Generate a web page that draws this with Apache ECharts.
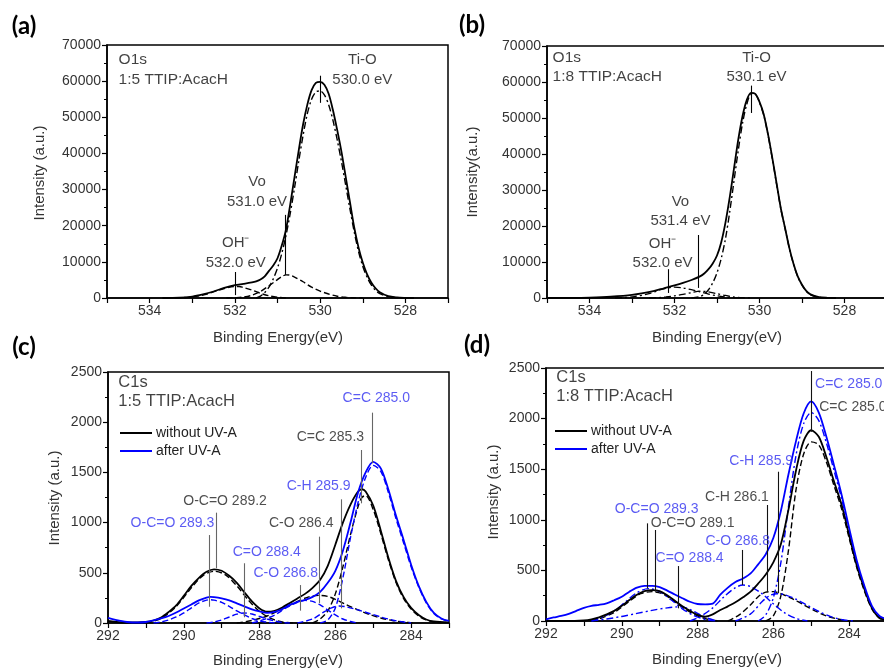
<!DOCTYPE html>
<html><head><meta charset="utf-8">
<script src="https://cdn.jsdelivr.net/npm/echarts@6/dist/echarts.min.js"></script>
<style>html,body{margin:0;padding:0;background:#fff;overflow:hidden;width:884px;height:668px}#c{width:892px;height:668px}</style>
</head><body><div id="c"></div>
<script>
// ---------- DATA ----------
// Panel (a) O1s 1:5
const aEnvelope = [[533.7,0],[533.3,100],[533.0,400],[532.75,1000],[532.5,1800],[532.25,2800],[532.0,3550],[531.8,3900],[531.6,4300],[531.5,4600],[531.4,5100],[531.3,6000],[531.2,7500],[531.1,9000],[531.0,11000],[530.9,14500],[530.8,19000],[530.7,26000],[530.6,33500],[530.5,41000],[530.4,48000],[530.3,53500],[530.2,57500],[530.1,59500],[530.0,59800],[529.9,59000],[529.8,56500],[529.7,52000],[529.6,46500],[529.5,40500],[529.4,33500],[529.3,26500],[529.2,19500],[529.1,14000],[529.0,9800],[528.9,6600],[528.8,4300],[528.7,2700],[528.6,1600],[528.4,500],[528.2,150],[528.0,40],[527.8,0]];
const aTiO = [[531.5,0],[531.4,500],[531.3,1500],[531.2,3000],[531.1,5300],[531.0,8300],[530.9,12300],[530.8,17300],[530.7,23500],[530.6,30500],[530.5,38000],[530.4,45000],[530.3,51000],[530.2,55000],[530.1,57000],[530.0,57300],[529.9,56200],[529.8,53500],[529.7,49200],[529.6,43800],[529.5,37800],[529.4,31200],[529.3,24600],[529.2,18300],[529.1,12900],[529.0,8800],[528.9,5800],[528.8,3600],[528.7,2100],[528.6,1200],[528.4,350],[528.2,80],[528.0,0]];
const aVo = [[532.2,0],[532.0,80],[531.8,250],[531.6,750],[531.4,1800],[531.2,3400],[531.0,5100],[530.9,5900],[530.8,6400],[530.7,6300],[530.6,5800],[530.4,4500],[530.2,3000],[530.0,1900],[529.8,1100],[529.6,500],[529.4,200],[529.2,50],[529.0,0]];
const aOH = [[533.4,0],[533.0,300],[532.8,700],[532.6,1300],[532.4,2100],[532.2,2800],[532.0,3200],[531.9,3200],[531.8,2900],[531.6,2200],[531.4,1300],[531.2,600],[531.0,200],[530.8,0]];
const aMarks = [[530.0,61500,54000],[530.82,23000,6400],[532.0,7200,800]];
const aLabels = [[529.01,63083,'Ti-O\n530.0 eV'],[531.48,29328,'Vo\n531.0 eV'],[531.98,12451,'OH\u207B\n532.0 eV']];
const aInfo = [[534.74,63083,'O1s\n1:5 TTIP:AcacH']];

// Panel (b) O1s 1:8
const bEnvelope = [[535.0,0],[534.5,30],[534.0,120],[533.5,350],[533.0,850],[532.5,1900],[532.25,2700],[532.0,3500],[531.8,4200],[531.6,5000],[531.4,6000],[531.3,6800],[531.2,8000],[531.1,9600],[531.0,11800],[530.9,15500],[530.8,21000],[530.7,28000],[530.6,36000],[530.5,44000],[530.4,50500],[530.3,55000],[530.2,57000],[530.1,56700],[530.0,54500],[529.9,51000],[529.8,45500],[529.7,39000],[529.6,32000],[529.5,25000],[529.4,19500],[529.3,14000],[529.2,9500],[529.1,6000],[529.0,3700],[528.9,2000],[528.8,1000],[528.6,250],[528.4,50],[528.2,0]];
const bTiO = [[531.6,0],[531.4,400],[531.3,1100],[531.2,2300],[531.1,4200],[531.0,7000],[530.9,11000],[530.8,16500],[530.7,24000],[530.6,32500],[530.5,41000],[530.4,48500],[530.3,53800],[530.2,56500],[530.1,56500],[530.0,54300],[529.9,50800],[529.8,45300],[529.7,38800],[529.6,31800],[529.5,24900],[529.4,19400],[529.3,13900],[529.2,9400],[529.1,5900],[529.0,3600],[528.9,1900],[528.8,900],[528.6,200],[528.4,0]];
const bVo = [[532.6,0],[532.4,100],[532.2,300],[532.0,600],[531.8,1000],[531.6,1500],[531.4,1900],[531.2,1700],[531.0,1200],[530.8,700],[530.6,300],[530.4,100],[530.2,0]];
const bOH = [[533.4,0],[533.0,300],[532.6,1200],[532.3,2400],[532.0,3000],[531.8,2800],[531.6,2300],[531.4,1700],[531.2,1100],[531.0,600],[530.8,300],[530.6,100],[530.4,0]];
const bMarks = [[530.2,59000,51400],[531.43,17500,2800],[532.14,8000,1400]];
const bLabels = [[530.07,64028,'Ti-O\n530.1 eV'],[531.86,24167,'Vo\n531.4 eV'],[532.28,12361,'OH\u207B\n532.0 eV']];
const bInfo = [[534.88,64167,'O1s\n1:8 TTIP:AcacH']];

// Panel (c) C1s 1:5
const cBlackEnv = [[292,20],[291.5,5],[291,10],[290.8,25],[290.6,55],[290.4,110],[290.2,175],[290,270],[289.8,370],[289.6,450],[289.4,510],[289.2,535],[289,520],[288.8,470],[288.6,400],[288.4,305],[288.2,215],[288,145],[287.8,112],[287.6,122],[287.4,155],[287.2,200],[287,245],[286.8,290],[286.6,350],[286.4,430],[286.2,570],[286,780],[285.8,1000],[285.6,1180],[285.4,1310],[285.3,1332],[285.2,1310],[285,1170],[284.8,920],[284.6,650],[284.4,420],[284.2,260],[284,150],[283.8,80],[283.6,35],[283.4,15],[283,5]];
const cBlueEnv = [[292,50],[291.8,30],[291.5,10],[291.2,5],[291,10],[290.8,25],[290.6,45],[290.4,70],[290.2,105],[290,145],[289.8,185],[289.6,225],[289.4,252],[289.3,260],[289.2,258],[289,245],[288.8,225],[288.6,195],[288.4,165],[288.2,135],[288,115],[287.8,100],[287.6,110],[287.4,140],[287.2,180],[287,210],[286.8,230],[286.6,260],[286.4,310],[286.2,400],[286,520],[285.8,720],[285.6,1000],[285.4,1300],[285.2,1500],[285,1605],[284.8,1540],[284.6,1330],[284.4,1070],[284.2,830],[284,580],[283.8,370],[283.6,210],[283.4,100],[283.2,45],[283,20]];
const cBlackCC = [[286.6,0],[286.4,40],[286.2,120],[286,290],[285.8,560],[285.6,880],[285.4,1160],[285.3,1250],[285.2,1270],[285,1130],[284.8,890],[284.6,630],[284.4,405],[284.2,245],[284,140],[283.8,70],[283.6,30],[283.4,10],[283.2,0]];
const cBlackCO = [[288.6,0],[288.2,25],[287.8,70],[287.4,140],[287,215],[286.7,260],[286.4,275],[286.2,265],[286,235],[285.7,180],[285.4,130],[285.1,85],[284.8,50],[284.5,25],[284.2,10],[283.9,0]];
const cBlackOCO = [[291,0],[290.6,45],[290.2,165],[289.8,350],[289.5,470],[289.2,515],[288.9,480],[288.6,370],[288.3,230],[288,115],[287.7,45],[287.4,10],[287.1,0]];
const cBlueCC = [[286.4,0],[286.2,30],[286,150],[285.8,450],[285.6,850],[285.4,1200],[285.2,1450],[285,1570],[284.8,1510],[284.6,1300],[284.4,1040],[284.2,800],[284,560],[283.8,360],[283.6,200],[283.4,95],[283.2,40],[283,15]];
const cBlueCH = [[287,0],[286.6,40],[286.3,110],[286.1,150],[285.9,170],[285.7,160],[285.4,130],[285.1,95],[284.8,60],[284.5,30],[284.2,10],[284,0]];
const cBlueCO = [[288.2,0],[288,20],[287.6,80],[287.3,150],[287,205],[286.8,225],[286.6,215],[286.4,180],[286.2,130],[286,80],[285.8,40],[285.6,15],[285.4,0]];
const cBlueCdO = [[289.4,0],[289.2,10],[289,30],[288.8,60],[288.6,88],[288.4,100],[288.2,90],[288,65],[287.8,40],[287.6,20],[287.4,5],[287.2,0]];
const cBlueOCO = [[290.8,0],[290.6,10],[290.4,30],[290.2,60],[290,100],[289.8,150],[289.6,200],[289.4,228],[289.3,232],[289.2,228],[289,205],[288.8,165],[288.6,120],[288.4,80],[288.2,45],[288,20],[287.8,8],[287.6,0]];
const cMarks = [[289.32,876,162],[289.15,1099,545],[288.41,595,57],[286.93,378,123],[286.42,860,196],[285.85,1232,146],[285.32,1723,1192],[285.02,2095,1591]];
const cLabels = [[284.92,2244,'C=C 285.0','b'],[286.13,1850,'C=C 285.3','k'],[286.44,1368,'C-H 285.9','b'],[288.91,1215,'O-C=O 289.2','k'],[290.3,999,'O-C=O 289.3','b'],[286.9,993,'C-O 286.4','k'],[287.81,704,'C=O 288.4','b'],[287.31,495,'C-O 286.8','b']];
const cInfo = [[291.74,2299,'C1s\n1:5 TTIP:AcacH']];

// Panel (d) C1s 1:8
const dBlackEnv = [[292,0],[291.5,0],[291,5],[290.8,15],[290.6,35],[290.4,65],[290.2,100],[290,150],[289.8,207],[289.6,260],[289.4,295],[289.2,305],[289,295],[288.8,255],[288.6,200],[288.4,145],[288.2,100],[288,60],[287.8,42],[287.6,65],[287.4,108],[287.2,145],[287,185],[286.8,235],[286.6,290],[286.4,370],[286.2,460],[286,580],[285.8,760],[285.6,1100],[285.4,1490],[285.2,1780],[285,1885],[284.8,1820],[284.6,1620],[284.4,1380],[284.2,1150],[284,850],[283.8,550],[283.6,320],[283.4,130],[283.2,30],[283,10]];
const dBlueEnv = [[292,17],[291.8,35],[291.6,50],[291.4,70],[291.2,100],[291,130],[290.8,150],[290.6,160],[290.4,175],[290.2,205],[290,240],[289.8,290],[289.6,330],[289.4,348],[289.2,348],[289,335],[288.8,300],[288.6,262],[288.4,225],[288.2,190],[288,168],[287.8,165],[287.6,172],[287.4,260],[287.2,330],[287,385],[286.8,420],[286.6,470],[286.4,560],[286.2,660],[286,820],[285.8,1090],[285.6,1450],[285.4,1780],[285.2,2050],[285,2170],[284.8,2060],[284.6,1820],[284.4,1540],[284.2,1250],[284,920],[283.8,600],[283.6,350],[283.4,150],[283.2,50],[283,20]];
const dBlackCC = [[286.2,0],[286,50],[285.8,250],[285.6,700],[285.4,1300],[285.2,1650],[285,1770],[284.8,1740],[284.6,1570],[284.4,1340],[284.2,1110],[284,820],[283.8,530],[283.6,300],[283.4,120],[283.2,30],[283,5]];
const dBlackCH = [[287.2,0],[286.9,60],[286.6,160],[286.4,240],[286.2,285],[286,290],[285.8,270],[285.5,220],[285.2,160],[284.9,100],[284.6,50],[284.3,20],[284,0]];
const dBlackOCO = [[290.8,0],[290.6,20],[290.2,85],[289.8,195],[289.5,270],[289.2,290],[288.9,265],[288.6,190],[288.3,110],[288,50],[287.7,15],[287.4,0]];
const dBlueCC = [[286.4,0],[286.2,60],[286,230],[285.8,580],[285.6,1130],[285.4,1640],[285.2,1950],[285,2060],[284.8,1980],[284.6,1760],[284.4,1490],[284.2,1210],[284,890],[283.8,580],[283.6,330],[283.4,140],[283.2,45],[283,15]];
const dBlueCH = [[287,0],[286.6,70],[286.3,190],[286.1,250],[285.9,270],[285.7,260],[285.4,215],[285.1,155],[284.8,95],[284.5,45],[284.2,15],[283.9,0]];
const dBlueCO = [[288.2,0],[287.9,50],[287.6,130],[287.3,240],[287,330],[286.8,355],[286.6,340],[286.3,270],[286,170],[285.7,80],[285.4,25],[285.1,0]];
const dBlueCdO = [[290.8,0],[290.4,20],[290,45],[289.6,75],[289.2,105],[288.8,130],[288.5,140],[288.3,130],[288.1,95],[287.9,55],[287.7,25],[287.5,0]];
const dBlueOCO = [[290.8,0],[290.5,40],[290.2,100],[289.9,190],[289.6,280],[289.3,320],[289,290],[288.7,210],[288.4,120],[288.1,55],[287.8,15],[287.5,0]];
const dMarks = [[285.0,2470,1870],[285.88,1475,274],[286.17,1146,290],[286.81,702,356],[288.5,543,125],[289.12,899,290],[289.32,965,323]];
const dLabels = [[284.01,2342,'C=C 285.0','b'],[283.9,2115,'C=C 285.0','k'],[286.32,1581,'C-H 285.9','b'],[286.96,1228,'C-H 286.1','k'],[289.08,1104,'O-C=O 289.3','b'],[288.13,971,'O-C=O 289.1','k'],[286.94,794,'C-O 286.8','b'],[288.21,620,'C=O 288.4','b']];
const dInfo = [[291.74,2310,'C1s\n1:8 TTIP:AcacH']];

const legendNames = ['without UV-A','after UV-A'];

// ---------- STYLE / BUILD ----------
const FF = "'Liberation Sans', Arial, sans-serif";
const BLUE = '#0000ff', TXTBLUE = '#3232f0', BLACK = '#000';
const DASH = [6,3], DASHDOT = [7,3,2,3];
const col = g => g === 'b' ? TXTBLUE : '#222';

const grids = [
  {left:107, top:45, width:341, height:253},
  {left:547, top:46, width:340, height:252},
  {left:108, top:372, width:341, height:251},
  {left:546, top:368, width:341, height:253}
].map(g => Object.assign(g, {show:true, borderColor:'#000', borderWidth:1.5, containLabel:false}));

function xAx(i, min, max){
  return {gridIndex:i, type:'value', min, max, interval:1, inverse:true,
    axisLine:{onZero:false, lineStyle:{color:'#000', width:1.5}},
    axisTick:{length:5, lineStyle:{color:'#000', width:1.2}},
    axisLabel:{formatter:v => (Math.round(v)%2===0 ? String(v) : ''), fontSize:14, color:'#333', margin:6, fontFamily:FF},
    splitLine:{show:false}};
}
function yAx(i, max, interval){
  return {gridIndex:i, type:'value', min:0, max, interval,
    axisLine:{show:true, onZero:false, lineStyle:{color:'#000', width:1.5}},
    axisTick:{show:true, length:5, lineStyle:{color:'#000', width:1.2}},
    minorTick:{show:true, splitNumber:2, length:3, lineStyle:{color:'#000', width:1}},
    axisLabel:{formatter:v => String(v), fontSize:14, color:'#333', margin:6, fontFamily:FF},
    splitLine:{show:false}};
}
function line(i, data, color, type, width, name){
  return {type:'line', name:name, xAxisIndex:i, yAxisIndex:i, data, symbol:'none', smooth:0.3,
    lineStyle:{color, width, type}, itemStyle:{color}, silent:true, z:3};
}
function ann(i, labels, marks, info, fs, lh, markColor, infoFs){
  return {type:'scatter', xAxisIndex:i, yAxisIndex:i, symbolSize:1, silent:true, clip:false,
    itemStyle:{color:'rgba(0,0,0,0)'}, z:6,
    data: labels.map(d => ({value:[d[0],d[1]], name:d[2], label:{color: d[3] ? col(d[3]) : '#111'}}))
      .concat(info.map(d => ({value:[d[0],d[1]], name:d[2],
        label:{position:'right', distance:0, align:'left', color:'#111', fontSize:infoFs, lineHeight:lh}}))),
    label:{show:true, position:'inside', formatter:'{b}', fontSize:fs, lineHeight:lh, fontFamily:FF, align:'center', verticalAlign:'middle'},
    markLine:{silent:true, symbol:['none','none'], animation:false, label:{show:false},
      lineStyle:{color:markColor, width:1.1, type:'solid'},
      data: marks.map(m => [{coord:[m[0],m[1]]},{coord:[m[0],m[2]]}])}
  };
}

const series = [
  line(0, aEnvelope, BLACK, 'solid', 1.8),
  line(0, aTiO, BLACK, DASHDOT, 1.4),
  line(0, aVo, BLACK, DASH, 1.4),
  line(0, aOH, BLACK, DASH, 1.4),
  ann(0, aLabels, aMarks, aInfo, 15, 20, '#000', 15.5),

  line(1, bEnvelope, BLACK, 'solid', 1.8),
  line(1, bTiO, BLACK, DASHDOT, 1.4),
  line(1, bVo, BLACK, DASHDOT, 1.3),
  line(1, bOH, BLACK, DASHDOT, 1.3),
  ann(1, bLabels, bMarks, bInfo, 15, 19, '#000', 15.5),

  line(2, cBlackCC, BLACK, DASH, 1.4),
  line(2, cBlackCO, BLACK, DASH, 1.4),
  line(2, cBlackOCO, BLACK, DASH, 1.4),
  line(2, cBlueCC, BLUE, DASH, 1.4),
  line(2, cBlueCH, BLUE, DASH, 1.4),
  line(2, cBlueCO, BLUE, DASH, 1.4),
  line(2, cBlueCdO, BLUE, DASH, 1.4),
  line(2, cBlueOCO, BLUE, DASH, 1.4),
  line(2, cBlackEnv, BLACK, 'solid', 1.8, legendNames[0]),
  line(2, cBlueEnv, BLUE, 'solid', 1.8, legendNames[1]),
  ann(2, cLabels, cMarks, cInfo, 14, 19, '#666', 16.5),

  line(3, dBlackCC, BLACK, DASH, 1.4),
  line(3, dBlackCH, BLACK, DASH, 1.4),
  line(3, dBlackOCO, BLACK, DASH, 1.4),
  line(3, dBlueCC, BLUE, DASHDOT, 1.4),
  line(3, dBlueCH, BLUE, DASHDOT, 1.4),
  line(3, dBlueCO, BLUE, DASHDOT, 1.4),
  line(3, dBlueCdO, BLUE, DASHDOT, 1.4),
  line(3, dBlueOCO, BLUE, DASHDOT, 1.4),
  line(3, dBlackEnv, BLACK, 'solid', 1.8, legendNames[0]),
  line(3, dBlueEnv, BLUE, 'solid', 1.8, legendNames[1]),
  ann(3, dLabels, dMarks, dInfo, 14, 19, '#111', 16.5)
];

function txt(x, y, text, font, rot, fill){
  return {type:'text', x, y, rotation: rot || 0, silent:true,
    style:{text, font, fill: fill || '#333', align:'center', verticalAlign:'middle', textAlign:'center', textVerticalAlign:'middle'}};
}
const TF = "15px 'Liberation Sans', Arial, sans-serif";
const PF = "bold 24px Lato, 'Open Sans', sans-serif";
const graphic = [
  txt(40,173,'Intensity (a.u.)',TF,Math.PI/2),
  txt(473,172,'Intensity(a.u.)',TF,Math.PI/2),
  txt(55,498,'Intensity (a.u.)',TF,Math.PI/2),
  txt(494,492,'Intensity (a.u.)',TF,Math.PI/2),
  txt(278,338,'Binding Energy(eV)',TF),
  txt(717,338,'Binding Energy(eV)',TF),
  txt(278,661,'Binding Energy(eV)',TF),
  txt(717,660,'Binding Energy(eV)',TF),
  txt(24,26,'(a)',PF,0,'#000'),
  txt(472,25,'(b)',PF,0,'#000'),
  txt(24,347,'(c)',PF,0,'#000'),
  txt(477,345,'(d)',PF,0,'#000')
];

function legend(left, top){
  return {left, top, orient:'vertical', padding:0, itemGap:4, itemWidth:32, itemHeight:2, icon:'rect',
    selectedMode:false, textStyle:{fontSize:14, color:'#222', fontFamily:FF, padding:[0,0,0,-1]}, data:legendNames};
}

const chart = echarts.init(document.getElementById('c'), null, {renderer:'canvas', width:892, height:668});
chart.setOption({
  animation:false,
  backgroundColor:'#fff',
  grid: grids,
  xAxis:[xAx(0,527,535), xAx(1,527,535), xAx(2,283,292), xAx(3,283,292)],
  yAxis:[yAx(0,70000,10000), yAx(1,70000,10000), yAx(2,2500,500), yAx(3,2500,500)],
  legend:[legend(120,426), legend(555,424)],
  series,
  graphic
});
</script></body></html>
